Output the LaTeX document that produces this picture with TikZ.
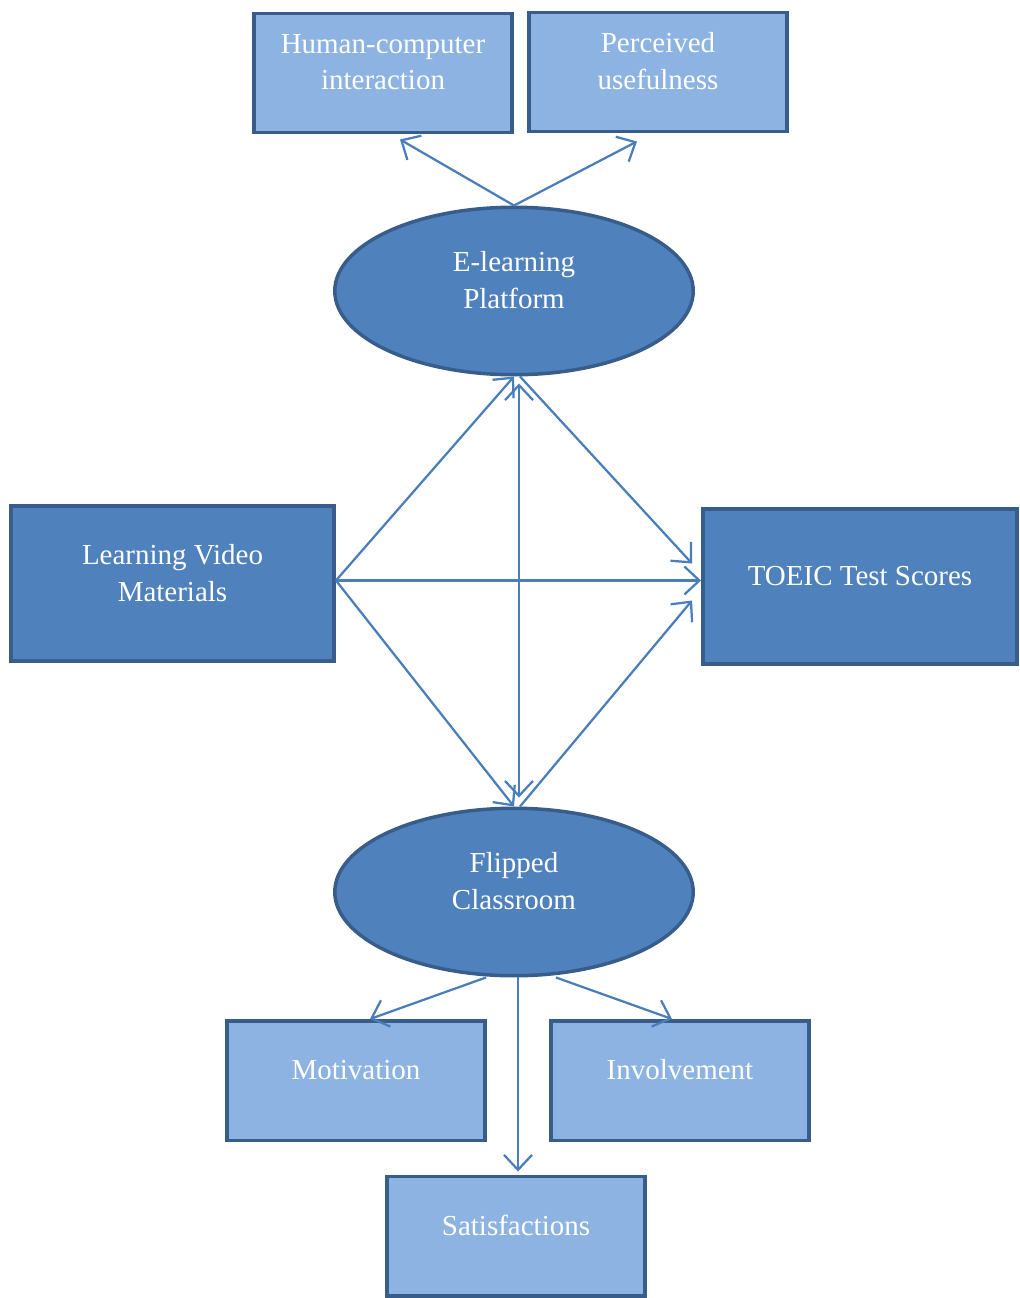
\documentclass[tikz,border=0pt]{standalone}
\usepackage{fontspec}
\setmainfont{Liberation Serif}
\usetikzlibrary{shapes.geometric,arrows.meta}

\definecolor{boxdark}{HTML}{4F81BD}
\definecolor{boxlight}{HTML}{8DB3E2}
\definecolor{boxline}{HTML}{385D8A}
\definecolor{arrowblue}{HTML}{4A7EBB}

\tikzset{
  block/.style={rectangle,draw=boxline,line width=0.07cm,text=white,align=center,
    inner sep=0pt,text depth=0.44cm,font=\fontsize{16.5}{21}\selectfont},
  lightblock/.style={block,fill=boxlight,minimum width=5.17cm,minimum height=2.39cm},
  darkblock/.style={block,fill=boxdark,minimum height=3.11cm},
  oval/.style={block,ellipse,fill=boxdark,minimum width=7.17cm,minimum height=3.35cm},
  barb/.tip={Straight Barb[length=0.3cm,width=0.56cm]},
  link/.style={arrowblue,line width=0.045cm,-barb}
}

\begin{document}
\begin{tikzpicture}[x=0.02cm,y=-0.02cm]
\useasboundingbox (0,0) rectangle (1020,1298);

% upper part
\node[lightblock]	(hci)	at (383,73)	{Human-computer\\interaction};
\node[lightblock]	(pu)	at (658,72)	{Perceived\\usefulness};
\node[oval]		(elp)	at (514,291)	{E-learning\\Platform};

% middle
\node[darkblock,minimum width=6.47cm]	(lvm)	at (172.5,583.5)	{Learning Video\\Materials};
\node[darkblock,minimum width=6.29cm]	(tts)	at (860,586.5)	{TOEIC Test Scores};

% lower part
\node[oval]		(fc)	at (514,892)	{Flipped\\Classroom};
\node[lightblock]	(mot)	at (356,1080.5)	{Motivation};
\node[lightblock]	(inv)	at (680,1080.5)	{Involvement};
\node[lightblock]	(sat)	at (516,1236)	{Satisfactions};

\path[link]	(elp.north)	edge	([shift={(17,5)}]hci.south)
				edge	([shift={(-21,8)}]pu.south)
	([shift={(0,-3)}]lvm.east)	edge	(elp.south)
				edge	([shift={(0,-6)}]tts.west)
				edge	(fc.north)
	([shift={(6,0)}]elp.south)	edge	([shift={(-9,-23)}]tts.west)
	([shift={(6,0)}]fc.north)	edge	([shift={(-9,14)}]tts.west)
	([shift={(-28,0)}]fc.south)	edge	([shift={(14,0)}]mot.north)
	([shift={(42,0)}]fc.south)	edge	([shift={(-8,0)}]inv.north)
	([shift={(4,0)}]fc.south)	edge	([shift={(2,-3)}]sat.north);
\draw[link,barb-barb]	([shift={(5,7)}]elp.south) -- ([shift={(5,-9)}]fc.north);
\end{tikzpicture}
\end{document}
